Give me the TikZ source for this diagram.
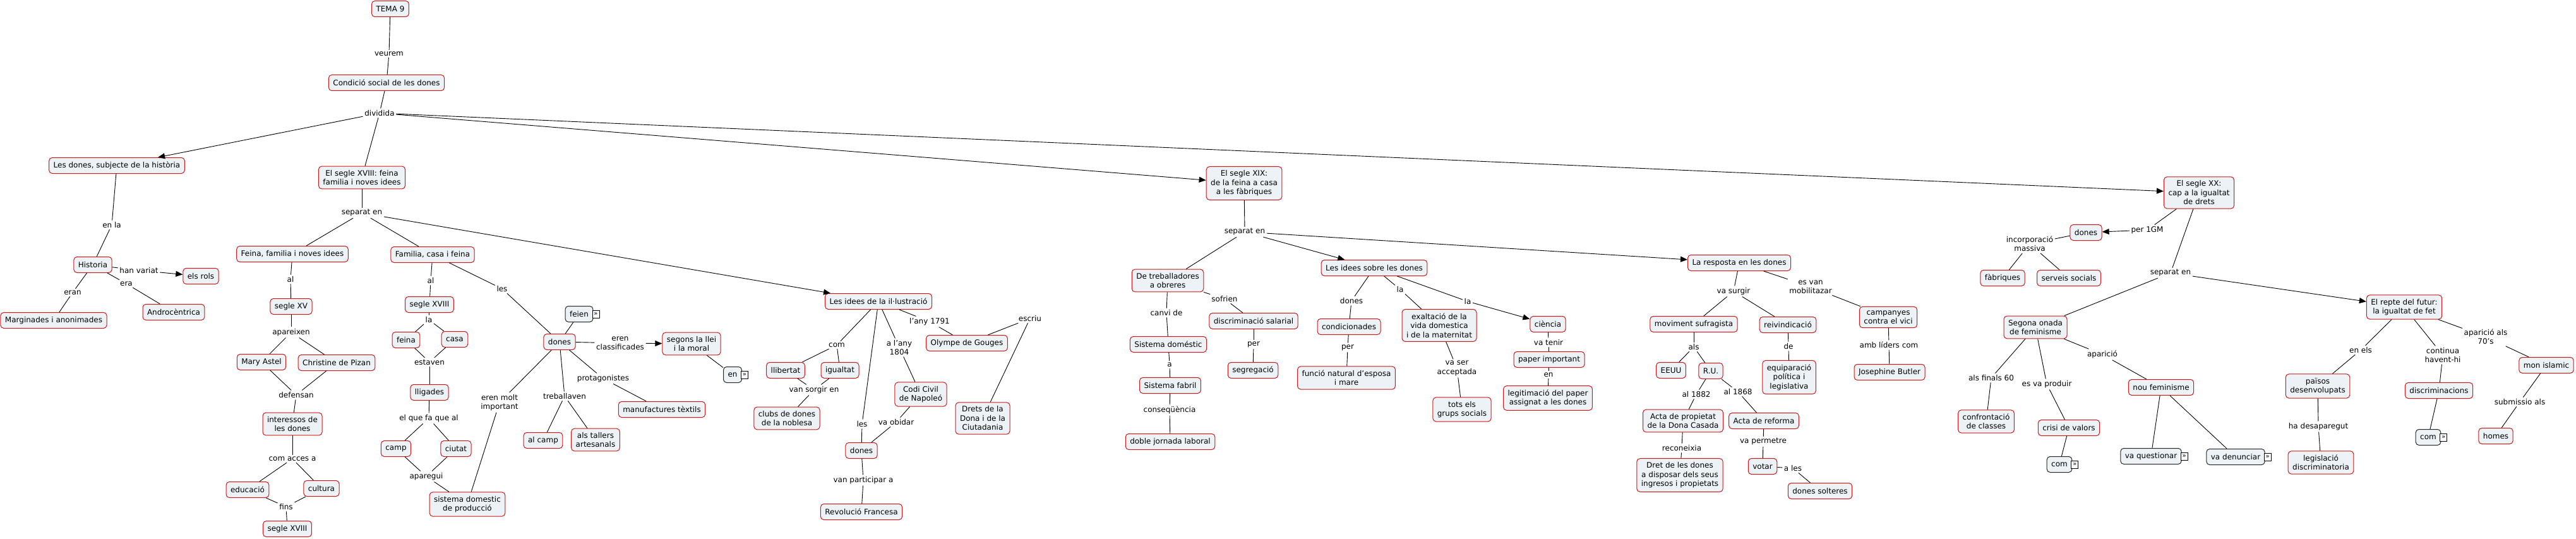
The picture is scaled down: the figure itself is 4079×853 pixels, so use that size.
\documentclass[tikz,border=0pt]{standalone}
\usepackage{fontspec}
\setmainfont{DejaVu Sans}
\usetikzlibrary{arrows.meta}
\definecolor{cfill}{RGB}{236,242,245}
\definecolor{cred}{RGB}{205,25,25}
\newcommand\mf{\fontsize{12}{14.5}\selectfont}
\begin{document}
\begin{tikzpicture}[x=1pt,y=1pt,
 every node/.style={font=\mf},
 cpt/.style={rectangle, rounded corners=5pt, draw=cred, fill=cfill, line width=1pt, align=center, inner xsep=7pt, inner ysep=6pt, minimum height=25pt},
 lbox/.style={cpt, draw=black!85},
 lnk/.style={align=center, inner sep=2.5pt},
 ico/.style={draw=black, fill=white, line width=0.8pt, minimum width=11pt, minimum height=12pt, inner sep=0pt, font=\fontsize{10}{10}\selectfont},
 con/.style={line width=0.9pt},
 arr/.style={con, -{Triangle[length=11pt,width=9pt]}}]
\useasboundingbox (0,0) rectangle (4079,-853);
% ---------- concepts ----------
\node[cpt] (tema) at (618,-14) {TEMA 9};
\node[cpt] (cond) at (612,-131) {Condició social de les dones};
\node[cpt] (subj) at (185,-262) {Les dones, subjecte de la història};
\node[cpt] (s18) at (573,-281) {El segle XVIII: feina\\familia i noves idees};
\node[cpt] (ffni) at (463,-402) {Feina, familia i noves idees};
\node[cpt] (fcf) at (685,-403) {Familia, casa i feina};
\node[cpt] (hist) at (147,-419) {Historia};
\node[cpt] (rols) at (318,-437) {els rols};
\node[cpt] (marg) at (85,-507) {Marginades i anonimades};
\node[cpt] (andro) at (275,-494) {Androcèntrica};
\node[cpt] (sxv) at (461,-485) {segle XV};
\node[cpt] (mary) at (414,-573) {Mary Astel};
\node[cpt] (chris) at (533,-574) {Christine de Pizan};
\node[cpt] (inter) at (463,-671) {interessos de\\les dones};
\node[cpt] (educ) at (392,-775) {educació};
\node[cpt] (cult) at (509,-773) {cultura};
\node[cpt] (sxviiib) at (455,-837) {segle XVIII};
\node[cpt] (sxviii) at (680,-482) {segle XVIII};
\node[cpt] (feina) at (643,-538) {feina};
\node[cpt] (casa) at (720,-537) {casa};
\node[cpt] (lligades) at (680,-621) {lligades};
\node[cpt] (camp) at (627,-710) {camp};
\node[cpt] (ciutat) at (722,-710) {ciutat};
\node[cpt] (sdom) at (740,-798) {sistema domestic\\de producció};
\node[cpt] (donesF) at (886,-541) {dones};
\node[cpt] (segons) at (1095,-544) {segons la llei\\i la moral};
\node[cpt] (manuf) at (1048,-648) {manufactures tèxtils};
\node[cpt] (alcamp) at (860,-697) {al camp};
\node[cpt] (tallers) at (943,-696) {als tallers\\artesanals};
\node[cpt] (idil) at (1391,-477) {Les idees de la il·lustració};
\node[cpt] (llib) at (1244,-586) {llibertat};
\node[cpt] (igual) at (1330,-586) {igualtat};
\node[cpt] (clubs) at (1246,-662) {clubs de dones\\de la noblesa};
\node[cpt] (donesI) at (1364,-713) {dones};
\node[cpt] (revo) at (1364,-810) {Revolució Francesa};
\node[cpt] (olympe) at (1531,-543) {Olympe de Gouges};
\node[cpt] (codi) at (1458,-624) {Codi Civil\\de Napoleó};
\node[cpt] (drets) at (1556,-662) {Drets de la\\Dona i de la\\Ciutadania};
\node[cpt] (s19) at (1970,-290) {El segle XIX:\\de la feina a casa\\a les fàbriques};
\node[cpt] (treb) at (1849,-444) {De treballadores\\a obreres};
\node[cpt] (dsal) at (1985,-508) {discriminació salarial};
\node[cpt] (sdome) at (1850,-545) {Sistema doméstic};
\node[cpt] (segreg) at (1984,-586) {segregació};
\node[cpt] (sfab) at (1853,-610) {Sistema fabril};
\node[cpt] (doble) at (1853,-699) {doble jornada laboral};
\node[cpt] (isd) at (2176,-424) {Les idees sobre les dones};
\node[cpt] (condic) at (2136,-517) {condicionades};
\node[cpt] (funcio) at (2132,-598) {funció natural d'esposa\\i mare};
\node[cpt] (exalt) at (2279,-515) {exaltació de la\\vida domestica\\i de la maternitat};
\node[cpt] (tots) at (2315,-648) {tots els\\grups socials};
\node[cpt] (cien) at (2451,-513) {ciència};
\node[cpt] (paper) at (2453,-569) {paper important};
\node[cpt] (legit) at (2451,-630) {legitimació del paper\\assignat a les dones};
\node[cpt] (resp) at (2754,-416) {La resposta en les dones};
\node[cpt] (movs) at (2682,-513) {moviment sufragista};
\node[cpt] (eeuu) at (2646,-586) {EEUU};
\node[cpt] (ru) at (2709,-587) {R.U.};
\node[cpt] (actap) at (2665,-666) {Acta de propietat\\de la Dona Casada};
\node[cpt] (dret) at (2660,-752) {Dret de les dones\\a disposar dels seus\\ingresos i propietats};
\node[cpt] (reiv) at (2831,-514) {reivindicació};
\node[cpt] (equip) at (2833,-597) {equiparació\\política i\\legislativa};
\node[cpt] (camps) at (2990,-502) {campanyes\\contra el vici};
\node[cpt] (butler) at (2992,-589) {Josephine Butler};
\node[cpt] (actar) at (2793,-666) {Acta de reforma};
\node[cpt] (votar) at (2791,-738) {votar};
\node[cpt] (solt) at (2882,-777) {dones solteres};
\node[cpt] (s20) at (3482,-305) {El segle XX:\\cap a la igualtat\\de drets};
\node[cpt] (donesX) at (3303,-368) {dones};
\node[cpt] (fabr) at (3171,-440) {fàbriques};
\node[cpt] (serv) at (3276,-440) {serveis socials};
\node[cpt] (segona) at (3223,-518) {Segona onada\\de feminisme};
\node[cpt] (confr) at (3145,-667) {confrontació\\de classes};
\node[cpt] (crisi) at (3276,-677) {crisi de valors};
\node[cpt] (nou) at (3422,-613) {nou feminisme};
\node[cpt] (repte) at (3807,-486) {El repte del futur:\\la igualtat de fet};
\node[cpt] (paisos) at (3670,-611) {països\\desenvolupats};
\node[cpt] (legis) at (3675,-732) {legislació\\discriminatoria};
\node[cpt] (discr) at (3862,-618) {discriminacions};
\node[cpt] (islam) at (4032,-578) {mon islamic};
\node[cpt] (homes) at (3952,-690) {homes};
% ---------- link boxes with icon ----------
\node[lbox] (feien) at (917,-497) {feien};
\node[ico] at ([xshift=4pt]feien.east) {»};
\node[lbox] (enS) at (1160,-593) {en};
\node[ico] at ([xshift=4pt]enS.east) {»};
\node[lbox] (comC) at (3261,-735) {com};
\node[ico] at ([xshift=4pt]comC.east) {»};
\node[lbox] (vaq) at (3406,-722) {va questionar};
\node[ico] at ([xshift=4pt]vaq.east) {»};
\node[lbox] (vad) at (3540,-723) {va denunciar};
\node[ico] at ([xshift=4pt]vad.east) {»};
\node[lbox] (comD) at (3845,-692) {com};
\node[ico] at ([xshift=4pt]comD.east) {»};
% ---------- linking phrases ----------
\node[lnk] (veurem) at (616,-85) {veurem};
\node[lnk] (dividida) at (601,-179) {dividida};
\node[lnk] (enla) at (177,-356) {en la};
\node[lnk] (hanv) at (220,-428) {han variat};
\node[lnk] (eran) at (115,-463) {eran};
\node[lnk] (era) at (200,-449) {era};
\node[lnk] (sep18) at (573,-337) {separat en};
\node[lnk] (al1) at (460,-442) {al};
\node[lnk] (apar) at (461,-526) {apareixen};
\node[lnk] (defe) at (469,-625) {defensan};
\node[lnk] (comacc) at (463,-726) {com acces a};
\node[lnk] (fins) at (453,-802) {fins};
\node[lnk] (al2) at (682,-444) {al};
\node[lnk] (la1) at (679,-506) {la};
\node[lnk] (estaven) at (680,-573) {estaven};
\node[lnk] (elque) at (679,-662) {el que fa que al};
\node[lnk] (apareg) at (675,-754) {aparegui};
\node[lnk] (les1) at (795,-457) {les};
\node[lnk] (erenc) at (982,-543) {eren\\classificades};
\node[lnk] (protag) at (955,-599) {protagonistes};
\node[lnk] (treballaven) at (894,-627) {treballaven};
\node[lnk] (erenm) at (791,-637) {eren molt\\important};
\node[lnk] (com1) at (1325,-546) {com};
\node[lnk] (vsorg) at (1289,-617) {van sorgir en};
\node[lnk] (les2) at (1365,-671) {les};
\node[lnk] (vpart) at (1367,-760) {van participar a};
\node[lnk] (any1791) at (1472,-509) {l'any 1791};
\node[lnk] (any1804) at (1424,-550) {a l'any\\1804};
\node[lnk] (vaob) at (1419,-668) {va obidar};
\node[lnk] (escriu) at (1631,-504) {escriu};
\node[lnk] (sep19) at (1971,-367) {separat en};
\node[lnk] (sofrien) at (1939,-473) {sofrien};
\node[lnk] (canvi) at (1847,-495) {canvi de};
\node[lnk] (per1) at (1985,-545) {per};
\node[lnk] (a1) at (1852,-577) {a};
\node[lnk] (conseq) at (1852,-649) {conseqüència};
\node[lnk] (donesL) at (2140,-476) {dones};
\node[lnk] (per2) at (2134,-550) {per};
\node[lnk] (la2) at (2217,-458) {la};
\node[lnk] (vaser) at (2307,-583) {va ser\\acceptada};
\node[lnk] (la3) at (2324,-477) {la};
\node[lnk] (vatenir) at (2452,-542) {va tenir};
\node[lnk] (en2) at (2452,-593) {en};
\node[lnk] (vasurgir) at (2745,-461) {va surgir};
\node[lnk] (als1) at (2682,-549) {als};
\node[lnk] (al1882) at (2686,-624) {al 1882};
\node[lnk] (recon) at (2663,-709) {reconeixia};
\node[lnk] (esvan) at (2867,-454) {es van\\mobilitazar};
\node[lnk] (de1) at (2832,-548) {de};
\node[lnk] (amblid) at (2991,-546) {amb líders com};
\node[lnk] (al1868) at (2752,-620) {al 1868};
\node[lnk] (vaperm) at (2792,-699) {va permetre};
\node[lnk] (ales) at (2839,-741) {a les};
\node[lnk] (per1gm) at (3400,-364) {per 1GM};
\node[lnk] (incorp) at (3214,-386) {incorporació\\massiva};
\node[lnk] (sep20) at (3437,-432) {separat en};
\node[lnk] (finals) at (3153,-598) {als finals 60};
\node[lnk] (esvap) at (3241,-608) {es va produir};
\node[lnk] (aparicio) at (3329,-561) {aparició};
\node[lnk] (enels) at (3738,-554) {en els};
\node[lnk] (hadesap) at (3671,-675) {ha desaparegut};
\node[lnk] (contin) at (3868,-562) {continua\\havent-hi};
\node[lnk] (apar70) at (3936,-533) {aparició als\\70's};
\node[lnk] (submis) at (3990,-636) {submissio als};
% ---------- connectors ----------
\draw[con] (tema) -- (veurem); \draw[con] (veurem) -- (cond);
\draw[con] (cond) -- (dividida);
\draw[arr] (dividida) -- (subj);
\draw[con] (dividida) -- (s18);
\draw[arr] (dividida) -- (s19);
\draw[arr] (dividida) -- (s20);
\draw[con] (subj) -- (enla); \draw[con] (enla) -- (hist);
\draw[con] (hist) -- (hanv); \draw[arr] (hanv) -- (rols);
\draw[con] (hist) -- (eran); \draw[con] (eran) -- (marg);
\draw[con] (hist) -- (era); \draw[con] (era) -- (andro);
\draw[con] (s18) -- (sep18);
\draw[con] (sep18) -- (ffni); \draw[con] (sep18) -- (fcf);
\draw[arr] (sep18) -- (idil);
\draw[con] (ffni) -- (al1); \draw[con] (al1) -- (sxv);
\draw[con] (sxv) -- (apar); \draw[con] (apar) -- (mary); \draw[con] (apar) -- (chris);
\draw[con] (mary) -- (defe); \draw[con] (chris) -- (defe); \draw[con] (defe) -- (inter);
\draw[con] (inter) -- (comacc); \draw[con] (comacc) -- (educ); \draw[con] (comacc) -- (cult);
\draw[con] (educ) -- (fins); \draw[con] (cult) -- (fins); \draw[con] (fins) -- (sxviiib);
\draw[con] (fcf) -- (al2); \draw[con] (al2) -- (sxviii);
\draw[con] (sxviii) -- (la1); \draw[con] (la1) -- (feina); \draw[con] (la1) -- (casa);
\draw[con] (feina) -- (estaven); \draw[con] (casa) -- (estaven); \draw[con] (estaven) -- (lligades);
\draw[con] (lligades) -- (elque); \draw[con] (elque) -- (camp); \draw[con] (elque) -- (ciutat);
\draw[con] (camp) -- (apareg); \draw[con] (ciutat) -- (apareg); \draw[con] (apareg) -- (sdom);
\draw[con] (fcf) -- (les1); \draw[con] (les1) -- (donesF);
\draw[con] (donesF) -- (feien);
\draw[con] (donesF) -- (erenc); \draw[arr] (erenc) -- (segons);
\draw[con] (segons) -- (enS);
\draw[con] (donesF) -- (protag); \draw[con] (protag) -- (manuf);
\draw[con] (donesF) -- (treballaven); \draw[con] (treballaven) -- (alcamp); \draw[con] (treballaven) -- (tallers);
\draw[con] (donesF) -- (erenm); \draw[con] (erenm) -- (sdom);
\draw[con] (idil) -- (com1); \draw[con] (com1) -- (llib); \draw[con] (com1) -- (igual);
\draw[con] (llib) -- (vsorg); \draw[con] (igual) -- (vsorg); \draw[con] (vsorg) -- (clubs);
\draw[con] (idil) -- (les2); \draw[con] (les2) -- (donesI);
\draw[con] (donesI) -- (vpart); \draw[con] (vpart) -- (revo);
\draw[con] (idil) -- (any1804); \draw[con] (any1804) -- (codi);
\draw[con] (codi) -- (vaob); \draw[con] (vaob) -- (donesI);
\draw[con] (idil) -- (any1791); \draw[con] (any1791) -- (olympe);
\draw[con] (olympe) -- (escriu); \draw[con] (escriu) -- (drets);
\draw[con] (s19) -- (sep19);
\draw[con] (sep19) -- (treb);
\draw[arr] (sep19) -- (isd);
\draw[arr] (sep19) -- (resp);
\draw[con] (treb) -- (canvi); \draw[con] (canvi) -- (sdome);
\draw[con] (sdome) -- (a1); \draw[con] (a1) -- (sfab);
\draw[con] (sfab) -- (conseq); \draw[con] (conseq) -- (doble);
\draw[con] (treb) -- (sofrien); \draw[con] (sofrien) -- (dsal);
\draw[con] (dsal) -- (per1); \draw[con] (per1) -- (segreg);
\draw[con] (isd) -- (donesL); \draw[con] (donesL) -- (condic);
\draw[con] (condic) -- (per2); \draw[con] (per2) -- (funcio);
\draw[con] (isd) -- (la2); \draw[con] (la2) -- (exalt);
\draw[con] (exalt) -- (vaser); \draw[con] (vaser) -- (tots);
\draw[con] (isd) -- (la3); \draw[arr] (la3) -- (cien);
\draw[con] (cien) -- (vatenir); \draw[con] (vatenir) -- (paper);
\draw[con] (paper) -- (en2); \draw[con] (en2) -- (legit);
\draw[con] (resp) -- (vasurgir); \draw[con] (vasurgir) -- (movs); \draw[con] (vasurgir) -- (reiv);
\draw[con] (reiv) -- (de1); \draw[con] (de1) -- (equip);
\draw[con] (resp) -- (esvan); \draw[con] (esvan) -- (camps);
\draw[con] (camps) -- (amblid); \draw[con] (amblid) -- (butler);
\draw[con] (movs) -- (als1); \draw[con] (als1) -- (eeuu); \draw[con] (als1) -- (ru);
\draw[con] (ru) -- (al1882); \draw[con] (al1882) -- (actap);
\draw[con] (actap) -- (recon); \draw[con] (recon) -- (dret);
\draw[con] (ru) -- (al1868); \draw[con] (al1868) -- (actar);
\draw[con] (actar) -- (vaperm); \draw[con] (vaperm) -- (votar);
\draw[con] (votar) -- (ales); \draw[con] (ales) -- (solt);
\draw[con] (s20) -- (per1gm); \draw[arr] (per1gm) -- (donesX);
\draw[con] (donesX) -- (incorp); \draw[con] (incorp) -- (fabr); \draw[con] (incorp) -- (serv);
\draw[con] (s20) -- (sep20); \draw[con] (sep20) -- (segona); \draw[arr] (sep20) -- (repte);
\draw[con] (segona) -- (finals); \draw[con] (finals) -- (confr);
\draw[con] (segona) -- (esvap); \draw[con] (esvap) -- (crisi); \draw[con] (crisi) -- (comC);
\draw[con] (segona) -- (aparicio); \draw[con] (aparicio) -- (nou);
\draw[con] (nou) -- (vaq); \draw[con] (nou) -- (vad);
\draw[con] (repte) -- (enels); \draw[con] (enels) -- (paisos);
\draw[con] (paisos) -- (hadesap); \draw[con] (hadesap) -- (legis);
\draw[con] (repte) -- (contin); \draw[con] (contin) -- (discr); \draw[con] (discr) -- (comD);
\draw[con] (repte) -- (apar70); \draw[con] (apar70) -- (islam);
\draw[con] (islam) -- (submis); \draw[con] (submis) -- (homes);
\end{tikzpicture}
\end{document}
